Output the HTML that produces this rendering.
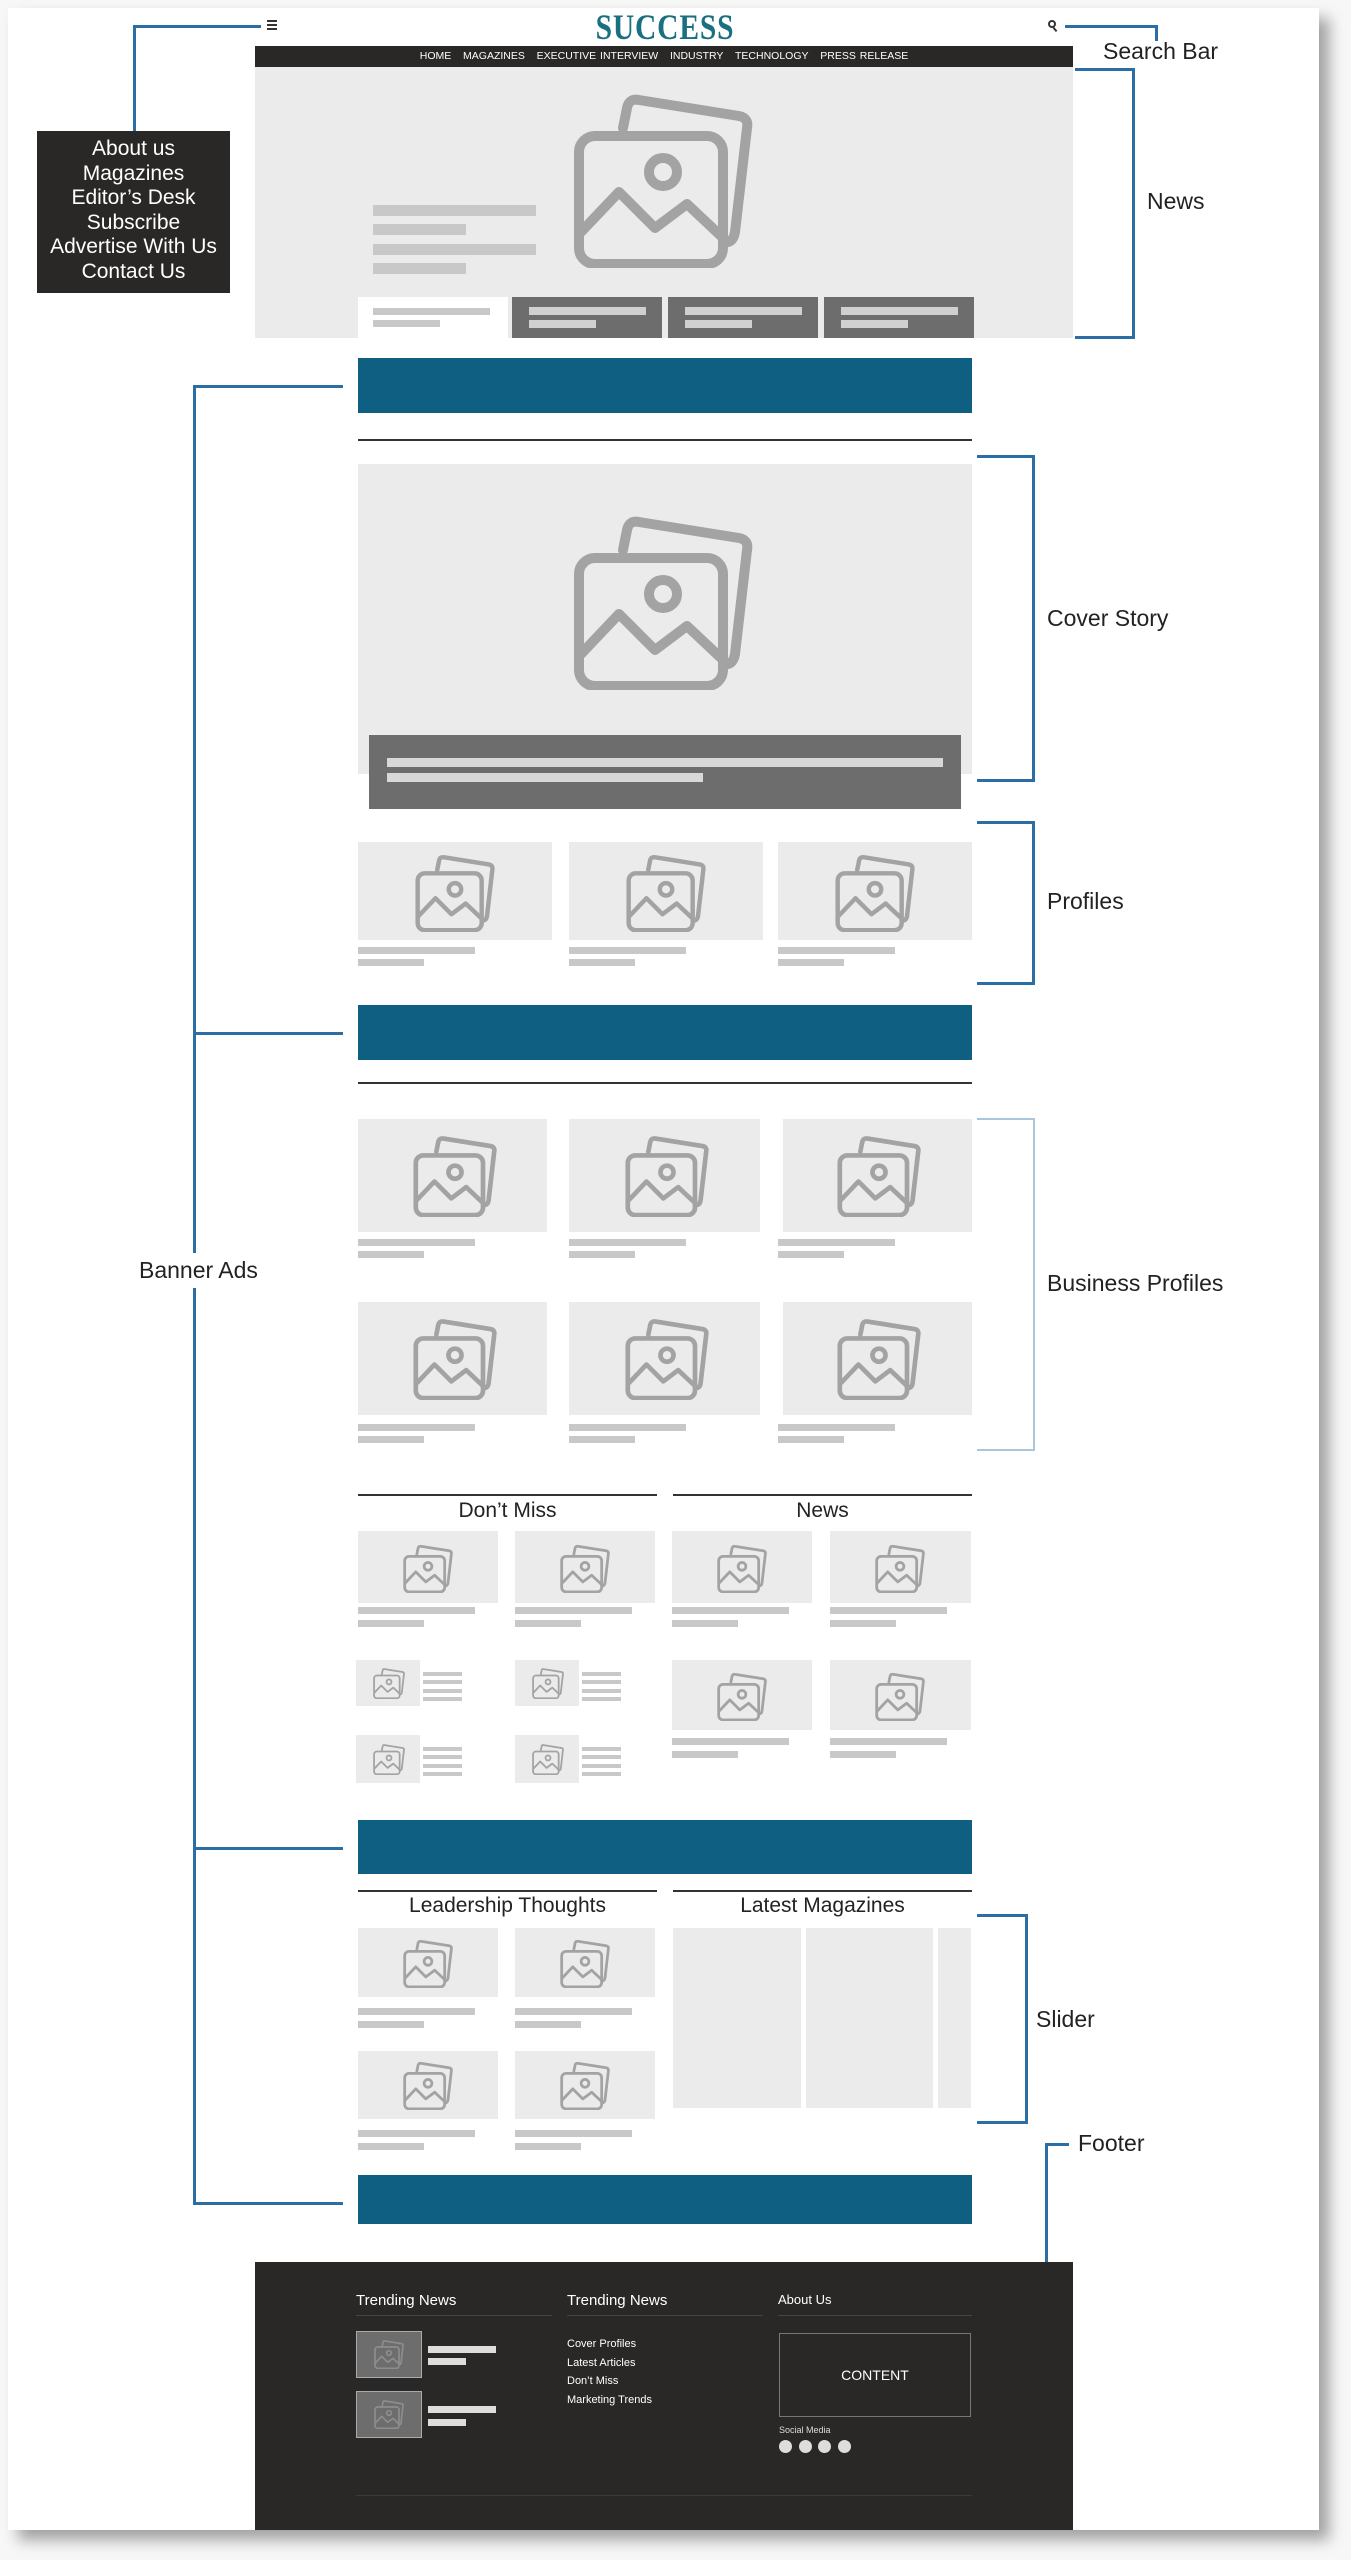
<!DOCTYPE html>
<html><head><meta charset="utf-8">
<style>
*{margin:0;padding:0;box-sizing:border-box}
body{width:1351px;height:2560px;background:#f7f7f7;position:relative;font-family:"Liberation Sans",sans-serif;overflow:hidden}
.a{position:absolute}
.card{left:8px;top:8px;width:1311px;height:2522px;background:#fff;box-shadow:10px 10px 14px rgba(0,0,0,.35)}
.g{background:#ebebeb}
.bar{background:#c8c8c8;position:absolute}
.ban{background:#0e5f82;position:absolute;left:358px;width:614px}
.bl{background:#2b6ea6;position:absolute}
.lbl{position:absolute;font-size:23px;color:#222;white-space:nowrap}
.hl{position:absolute;height:2px;background:#333}
svg.ic{position:absolute}
.sec{position:absolute;font-size:21px;color:#222;text-align:center}
</style></head><body>
<svg width="0" height="0" style="position:absolute">
<defs>
<g id="im" fill="none" stroke="#a3a3a3" stroke-width="5" stroke-linejoin="round" stroke-linecap="round">
<path d="M30 20 L32 10 Q33 5 38 6 L88 14 Q93 15 92 20 L86 72 Q85 78 80 77"/>
<rect x="8" y="24" width="72" height="64" rx="8"/>
<circle cx="50" cy="42" r="7"/>
<path d="M9 72 L28 52 L46 70 L62 58 L79 74"/>
</g>
</defs></svg>
<div class="a card"></div>

<!-- header -->
<div class="a" style="left:267px;top:20px;width:10px;height:2px;background:#333;box-shadow:0 4px 0 #333,0 8px 0 #333"></div>
<div class="a" style="left:560px;top:6px;width:210px;text-align:center;font-family:'Liberation Serif',serif;font-weight:bold;font-size:36px;color:#1a6f80;letter-spacing:1px;transform:scaleX(.82)">SUCCESS</div>
<div class="a" style="left:1048px;top:20px;width:8px;height:8px;border:2px solid #333;border-radius:50%"></div>
<div class="a" style="left:1054px;top:27px;width:2px;height:5px;background:#333;transform:rotate(-40deg)"></div>
<div class="a" style="left:255px;top:46px;width:818px;height:21px;background:#2a2727;color:#fff;font-size:10.5px;text-align:center;line-height:21px;word-spacing:1px">HOME&nbsp;&nbsp; MAGAZINES&nbsp;&nbsp; EXECUTIVE INTERVIEW&nbsp;&nbsp; INDUSTRY&nbsp;&nbsp; TECHNOLOGY&nbsp;&nbsp; PRESS RELEASE</div>
<div class="a g" style="left:255px;top:67px;width:818px;height:271px"></div>
<svg class="ic" style="left:563px;top:88px" width="200" height="180" viewBox="0 0 100 90"><use href="#im"/></svg>
<div class="bar" style="left:373px;top:205px;width:163px;height:11px"></div>
<div class="bar" style="left:373px;top:224px;width:93px;height:11px"></div>
<div class="bar" style="left:373px;top:244px;width:163px;height:11px"></div>
<div class="bar" style="left:373px;top:263px;width:93px;height:11px"></div>
<div class="a" style="left:358px;top:297px;width:150px;height:41px;background:#fff"></div>
<div class="bar" style="left:373px;top:308px;width:117px;height:7px"></div>
<div class="bar" style="left:373px;top:320px;width:67px;height:7px"></div>
<div class="a" style="left:512px;top:297px;width:150px;height:41px;background:#6d6d6d"></div>
<div class="a" style="left:668px;top:297px;width:150px;height:41px;background:#6d6d6d"></div>
<div class="a" style="left:824px;top:297px;width:150px;height:41px;background:#6d6d6d"></div>
<div class="bar" style="left:529px;top:307px;width:117px;height:8px;background:#d0d0d0"></div><div class="bar" style="left:529px;top:320px;width:67px;height:8px;background:#d0d0d0"></div>
<div class="bar" style="left:685px;top:307px;width:117px;height:8px;background:#d0d0d0"></div><div class="bar" style="left:685px;top:320px;width:67px;height:8px;background:#d0d0d0"></div>
<div class="bar" style="left:841px;top:307px;width:117px;height:8px;background:#d0d0d0"></div><div class="bar" style="left:841px;top:320px;width:67px;height:8px;background:#d0d0d0"></div>

<!-- menu annotation -->
<div class="bl" style="left:133px;top:25px;width:128px;height:3px"></div>
<div class="bl" style="left:133px;top:25px;width:3px;height:107px"></div>
<div class="a" style="left:37px;top:131px;width:193px;height:162px;background:#2a2727;color:#fff;font-size:21px;text-align:center;line-height:24.5px;padding-top:6px">About us<br>Magazines<br>Editor’s Desk<br>Subscribe<br>Advertise With Us<br>Contact Us</div>
<!-- search -->
<div class="bl" style="left:1065px;top:25px;width:92px;height:3px"></div>
<div class="bl" style="left:1155px;top:25px;width:3px;height:16px"></div>
<div class="lbl" style="left:1103px;top:38px">Search Bar</div>
<!-- news bracket -->
<div class="bl" style="left:1075px;top:68px;width:60px;height:3px"></div>
<div class="bl" style="left:1132px;top:68px;width:3px;height:271px"></div>
<div class="bl" style="left:1075px;top:336px;width:60px;height:3px"></div>
<div class="lbl" style="left:1147px;top:188px">News</div>

<!-- banners -->
<div class="ban" style="top:358px;height:55px"></div>
<div class="hl" style="left:358px;top:439px;width:614px"></div>
<div class="a g" style="left:358px;top:464px;width:614px;height:310px"></div>
<svg class="ic" style="left:563px;top:510px" width="200" height="180" viewBox="0 0 100 90"><use href="#im"/></svg>
<div class="a" style="left:369px;top:735px;width:592px;height:74px;background:#6d6d6d"></div>
<div class="bar" style="left:387px;top:758px;width:556px;height:9px;background:#d8d8d8"></div>
<div class="bar" style="left:387px;top:773px;width:316px;height:9px;background:#d8d8d8"></div>

<!-- profiles -->
<div class="a g" style="left:358px;top:842px;width:194px;height:98px"></div>
<div class="a g" style="left:569px;top:842px;width:194px;height:98px"></div>
<div class="a g" style="left:778px;top:842px;width:194px;height:98px"></div>
<svg class="ic" style="left:410px;top:852px" width="90" height="80" viewBox="0 0 100 90"><use href="#im"/></svg>
<svg class="ic" style="left:621px;top:852px" width="90" height="80" viewBox="0 0 100 90"><use href="#im"/></svg>
<svg class="ic" style="left:830px;top:852px" width="90" height="80" viewBox="0 0 100 90"><use href="#im"/></svg>
<div class="bar" style="left:358px;top:947px;width:117px;height:7px"></div><div class="bar" style="left:358px;top:959px;width:66px;height:7px"></div>
<div class="bar" style="left:569px;top:947px;width:117px;height:7px"></div><div class="bar" style="left:569px;top:959px;width:66px;height:7px"></div>
<div class="bar" style="left:778px;top:947px;width:117px;height:7px"></div><div class="bar" style="left:778px;top:959px;width:66px;height:7px"></div>

<div class="ban" style="top:1005px;height:55px"></div>
<div class="hl" style="left:358px;top:1082px;width:614px"></div>

<!-- business profiles -->
<div class="a g" style="left:358px;top:1119px;width:189px;height:113px"></div>
<div class="a g" style="left:569px;top:1119px;width:191px;height:113px"></div>
<div class="a g" style="left:783px;top:1119px;width:189px;height:113px"></div>
<div class="a g" style="left:358px;top:1302px;width:189px;height:113px"></div>
<div class="a g" style="left:569px;top:1302px;width:191px;height:113px"></div>
<div class="a g" style="left:783px;top:1302px;width:189px;height:113px"></div>
<svg class="ic" style="left:408px;top:1133px" width="94" height="84" viewBox="0 0 100 90"><use href="#im"/></svg>
<svg class="ic" style="left:620px;top:1133px" width="94" height="84" viewBox="0 0 100 90"><use href="#im"/></svg>
<svg class="ic" style="left:832px;top:1133px" width="94" height="84" viewBox="0 0 100 90"><use href="#im"/></svg>
<svg class="ic" style="left:408px;top:1316px" width="94" height="84" viewBox="0 0 100 90"><use href="#im"/></svg>
<svg class="ic" style="left:620px;top:1316px" width="94" height="84" viewBox="0 0 100 90"><use href="#im"/></svg>
<svg class="ic" style="left:832px;top:1316px" width="94" height="84" viewBox="0 0 100 90"><use href="#im"/></svg>
<div class="bar" style="left:358px;top:1239px;width:117px;height:7px"></div><div class="bar" style="left:358px;top:1251px;width:66px;height:7px"></div>
<div class="bar" style="left:569px;top:1239px;width:117px;height:7px"></div><div class="bar" style="left:569px;top:1251px;width:66px;height:7px"></div>
<div class="bar" style="left:778px;top:1239px;width:117px;height:7px"></div><div class="bar" style="left:778px;top:1251px;width:66px;height:7px"></div>
<div class="bar" style="left:358px;top:1424px;width:117px;height:7px"></div><div class="bar" style="left:358px;top:1436px;width:66px;height:7px"></div>
<div class="bar" style="left:569px;top:1424px;width:117px;height:7px"></div><div class="bar" style="left:569px;top:1436px;width:66px;height:7px"></div>
<div class="bar" style="left:778px;top:1424px;width:117px;height:7px"></div><div class="bar" style="left:778px;top:1436px;width:66px;height:7px"></div>

<!-- don't miss / news -->
<div class="hl" style="left:358px;top:1494px;width:299px"></div>
<div class="hl" style="left:673px;top:1494px;width:299px"></div>
<div class="sec" style="left:358px;top:1499px;width:299px">Don’t Miss</div>
<div class="sec" style="left:673px;top:1499px;width:299px">News</div>
<div class="a g" style="left:358px;top:1531px;width:140px;height:72px"></div>
<div class="a g" style="left:515px;top:1531px;width:140px;height:72px"></div>
<div class="a g" style="left:672px;top:1531px;width:140px;height:72px"></div>
<div class="a g" style="left:830px;top:1531px;width:141px;height:72px"></div>
<svg class="ic" style="left:400px;top:1543px" width="56" height="50" viewBox="0 0 100 90"><use href="#im"/></svg>
<svg class="ic" style="left:557px;top:1543px" width="56" height="50" viewBox="0 0 100 90"><use href="#im"/></svg>
<svg class="ic" style="left:714px;top:1543px" width="56" height="50" viewBox="0 0 100 90"><use href="#im"/></svg>
<svg class="ic" style="left:872px;top:1543px" width="56" height="50" viewBox="0 0 100 90"><use href="#im"/></svg>
<div class="bar" style="left:358px;top:1607px;width:117px;height:7px"></div><div class="bar" style="left:358px;top:1620px;width:66px;height:7px"></div>
<div class="bar" style="left:515px;top:1607px;width:117px;height:7px"></div><div class="bar" style="left:515px;top:1620px;width:66px;height:7px"></div>
<div class="bar" style="left:672px;top:1607px;width:117px;height:7px"></div><div class="bar" style="left:672px;top:1620px;width:66px;height:7px"></div>
<div class="bar" style="left:830px;top:1607px;width:117px;height:7px"></div><div class="bar" style="left:830px;top:1620px;width:66px;height:7px"></div>
<!-- small items -->
<div class="a g" style="left:356px;top:1660px;width:64px;height:46px"></div>
<div class="a g" style="left:515px;top:1660px;width:64px;height:46px"></div>
<div class="a g" style="left:356px;top:1735px;width:64px;height:48px"></div>
<div class="a g" style="left:515px;top:1735px;width:64px;height:48px"></div>
<svg class="ic" style="left:371px;top:1667px" width="36" height="32" viewBox="0 0 100 90"><use href="#im"/></svg>
<svg class="ic" style="left:530px;top:1667px" width="36" height="32" viewBox="0 0 100 90"><use href="#im"/></svg>
<svg class="ic" style="left:371px;top:1743px" width="36" height="32" viewBox="0 0 100 90"><use href="#im"/></svg>
<svg class="ic" style="left:530px;top:1743px" width="36" height="32" viewBox="0 0 100 90"><use href="#im"/></svg>
<div class="a" style="left:423px;top:1672px;width:39px;height:30px;background:linear-gradient(#c8c8c8 0 4px,transparent 4px 8px,#c8c8c8 8px 12px,transparent 12px 17px,#c8c8c8 17px 21px,transparent 21px 25px,#c8c8c8 25px 29px,transparent 29px)"></div>
<div class="a" style="left:582px;top:1672px;width:39px;height:30px;background:linear-gradient(#c8c8c8 0 4px,transparent 4px 8px,#c8c8c8 8px 12px,transparent 12px 17px,#c8c8c8 17px 21px,transparent 21px 25px,#c8c8c8 25px 29px,transparent 29px)"></div>
<div class="a" style="left:423px;top:1747px;width:39px;height:30px;background:linear-gradient(#c8c8c8 0 4px,transparent 4px 8px,#c8c8c8 8px 12px,transparent 12px 17px,#c8c8c8 17px 21px,transparent 21px 25px,#c8c8c8 25px 29px,transparent 29px)"></div>
<div class="a" style="left:582px;top:1747px;width:39px;height:30px;background:linear-gradient(#c8c8c8 0 4px,transparent 4px 8px,#c8c8c8 8px 12px,transparent 12px 17px,#c8c8c8 17px 21px,transparent 21px 25px,#c8c8c8 25px 29px,transparent 29px)"></div>
<div class="a g" style="left:672px;top:1660px;width:140px;height:70px"></div>
<div class="a g" style="left:830px;top:1660px;width:141px;height:70px"></div>
<svg class="ic" style="left:714px;top:1671px" width="56" height="50" viewBox="0 0 100 90"><use href="#im"/></svg>
<svg class="ic" style="left:872px;top:1671px" width="56" height="50" viewBox="0 0 100 90"><use href="#im"/></svg>
<div class="bar" style="left:672px;top:1738px;width:117px;height:7px"></div><div class="bar" style="left:672px;top:1751px;width:66px;height:7px"></div>
<div class="bar" style="left:830px;top:1738px;width:117px;height:7px"></div><div class="bar" style="left:830px;top:1751px;width:66px;height:7px"></div>

<div class="ban" style="top:1820px;height:54px"></div>

<!-- leadership / magazines -->
<div class="hl" style="left:358px;top:1890px;width:299px"></div>
<div class="hl" style="left:673px;top:1890px;width:299px"></div>
<div class="sec" style="left:358px;top:1894px;width:299px">Leadership Thoughts</div>
<div class="sec" style="left:673px;top:1894px;width:299px">Latest Magazines</div>
<div class="a g" style="left:358px;top:1928px;width:140px;height:69px"></div>
<div class="a g" style="left:515px;top:1928px;width:140px;height:69px"></div>
<div class="a g" style="left:358px;top:2051px;width:140px;height:68px"></div>
<div class="a g" style="left:515px;top:2051px;width:140px;height:68px"></div>
<svg class="ic" style="left:400px;top:1938px" width="56" height="50" viewBox="0 0 100 90"><use href="#im"/></svg>
<svg class="ic" style="left:557px;top:1938px" width="56" height="50" viewBox="0 0 100 90"><use href="#im"/></svg>
<svg class="ic" style="left:400px;top:2060px" width="56" height="50" viewBox="0 0 100 90"><use href="#im"/></svg>
<svg class="ic" style="left:557px;top:2060px" width="56" height="50" viewBox="0 0 100 90"><use href="#im"/></svg>
<div class="bar" style="left:358px;top:2008px;width:117px;height:7px"></div><div class="bar" style="left:358px;top:2021px;width:66px;height:7px"></div>
<div class="bar" style="left:515px;top:2008px;width:117px;height:7px"></div><div class="bar" style="left:515px;top:2021px;width:66px;height:7px"></div>
<div class="bar" style="left:358px;top:2130px;width:117px;height:7px"></div><div class="bar" style="left:358px;top:2143px;width:66px;height:7px"></div>
<div class="bar" style="left:515px;top:2130px;width:117px;height:7px"></div><div class="bar" style="left:515px;top:2143px;width:66px;height:7px"></div>
<div class="a g" style="left:673px;top:1928px;width:128px;height:180px"></div>
<div class="a g" style="left:806px;top:1928px;width:127px;height:180px"></div>
<div class="a g" style="left:938px;top:1928px;width:33px;height:180px"></div>

<div class="ban" style="top:2175px;height:49px"></div>

<!-- footer -->
<div class="a" style="left:255px;top:2262px;width:818px;height:268px;background:#2a2727"></div>
<div class="a" style="left:356px;top:2292px;color:#fff;font-size:15px">Trending News</div>
<div class="a" style="left:567px;top:2292px;color:#fff;font-size:15px">Trending News</div>
<div class="a" style="left:778px;top:2292px;color:#fff;font-size:13px">About Us</div>
<div class="a" style="left:356px;top:2315px;width:196px;height:1px;background:#444"></div>
<div class="a" style="left:567px;top:2315px;width:196px;height:1px;background:#444"></div>
<div class="a" style="left:778px;top:2315px;width:194px;height:1px;background:#444"></div>
<div class="a" style="left:356px;top:2331px;width:66px;height:47px;background:#6d6d6d;border:1px solid #aaa"></div>
<div class="a" style="left:356px;top:2391px;width:66px;height:47px;background:#6d6d6d;border:1px solid #aaa"></div>
<svg class="ic" style="left:372px;top:2339px" width="34" height="30" viewBox="0 0 100 90" opacity=".6"><use href="#im"/></svg>
<svg class="ic" style="left:372px;top:2399px" width="34" height="30" viewBox="0 0 100 90" opacity=".6"><use href="#im"/></svg>
<div class="bar" style="left:428px;top:2346px;width:68px;height:7px;background:#ddd"></div><div class="bar" style="left:428px;top:2358px;width:38px;height:7px;background:#ddd"></div>
<div class="bar" style="left:428px;top:2406px;width:68px;height:7px;background:#ddd"></div><div class="bar" style="left:428px;top:2419px;width:38px;height:7px;background:#ddd"></div>
<div class="a" style="left:567px;top:2335px;color:#fff;font-size:11px;line-height:18.7px">Cover Profiles<br>Latest Articles<br>Don’t Miss<br>Marketing Trends</div>
<div class="a" style="left:779px;top:2333px;width:192px;height:84px;border:1px solid #777;color:#fff;font-size:14px;text-align:center;line-height:82px">CONTENT</div>
<div class="a" style="left:779px;top:2425px;color:#ddd;font-size:9px">Social Media</div>
<div class="a" style="left:779px;top:2440px;width:13px;height:13px;border-radius:50%;background:#ddd;box-shadow:20px 0 0 #ddd,39px 0 0 #ddd,59px 0 0 #ddd"></div>
<div class="a" style="left:356px;top:2495px;width:616px;height:1px;background:#3a3a3a"></div>

<!-- banner ads bracket -->
<div class="bl" style="left:193px;top:385px;width:3px;height:1820px"></div>
<div class="bl" style="left:193px;top:385px;width:150px;height:3px"></div>
<div class="bl" style="left:193px;top:1032px;width:150px;height:3px"></div>
<div class="bl" style="left:193px;top:1847px;width:150px;height:3px"></div>
<div class="bl" style="left:193px;top:2202px;width:150px;height:3px"></div>
<div class="lbl" style="left:137px;top:1253px;background:#fff;padding:4px 2px">Banner Ads</div>

<!-- right brackets -->
<div class="bl" style="left:977px;top:455px;width:58px;height:3px"></div>
<div class="bl" style="left:1032px;top:455px;width:3px;height:327px"></div>
<div class="bl" style="left:977px;top:779px;width:58px;height:3px"></div>
<div class="lbl" style="left:1047px;top:605px">Cover Story</div>

<div class="bl" style="left:977px;top:821px;width:58px;height:3px"></div>
<div class="bl" style="left:1032px;top:821px;width:3px;height:164px"></div>
<div class="bl" style="left:977px;top:982px;width:58px;height:3px"></div>
<div class="lbl" style="left:1047px;top:888px">Profiles</div>

<div class="a" style="left:977px;top:1118px;width:58px;height:2px;background:#a9c6de"></div>
<div class="a" style="left:1033px;top:1118px;width:2px;height:333px;background:#a9c6de"></div>
<div class="a" style="left:977px;top:1449px;width:58px;height:2px;background:#a9c6de"></div>
<div class="lbl" style="left:1047px;top:1270px">Business Profiles</div>

<div class="bl" style="left:977px;top:1914px;width:51px;height:3px"></div>
<div class="bl" style="left:1025px;top:1914px;width:3px;height:210px"></div>
<div class="bl" style="left:977px;top:2121px;width:51px;height:3px"></div>
<div class="lbl" style="left:1036px;top:2006px">Slider</div>

<div class="bl" style="left:1045px;top:2143px;width:3px;height:119px"></div>
<div class="bl" style="left:1045px;top:2143px;width:24px;height:3px"></div>
<div class="lbl" style="left:1078px;top:2130px">Footer</div>
</body></html>
